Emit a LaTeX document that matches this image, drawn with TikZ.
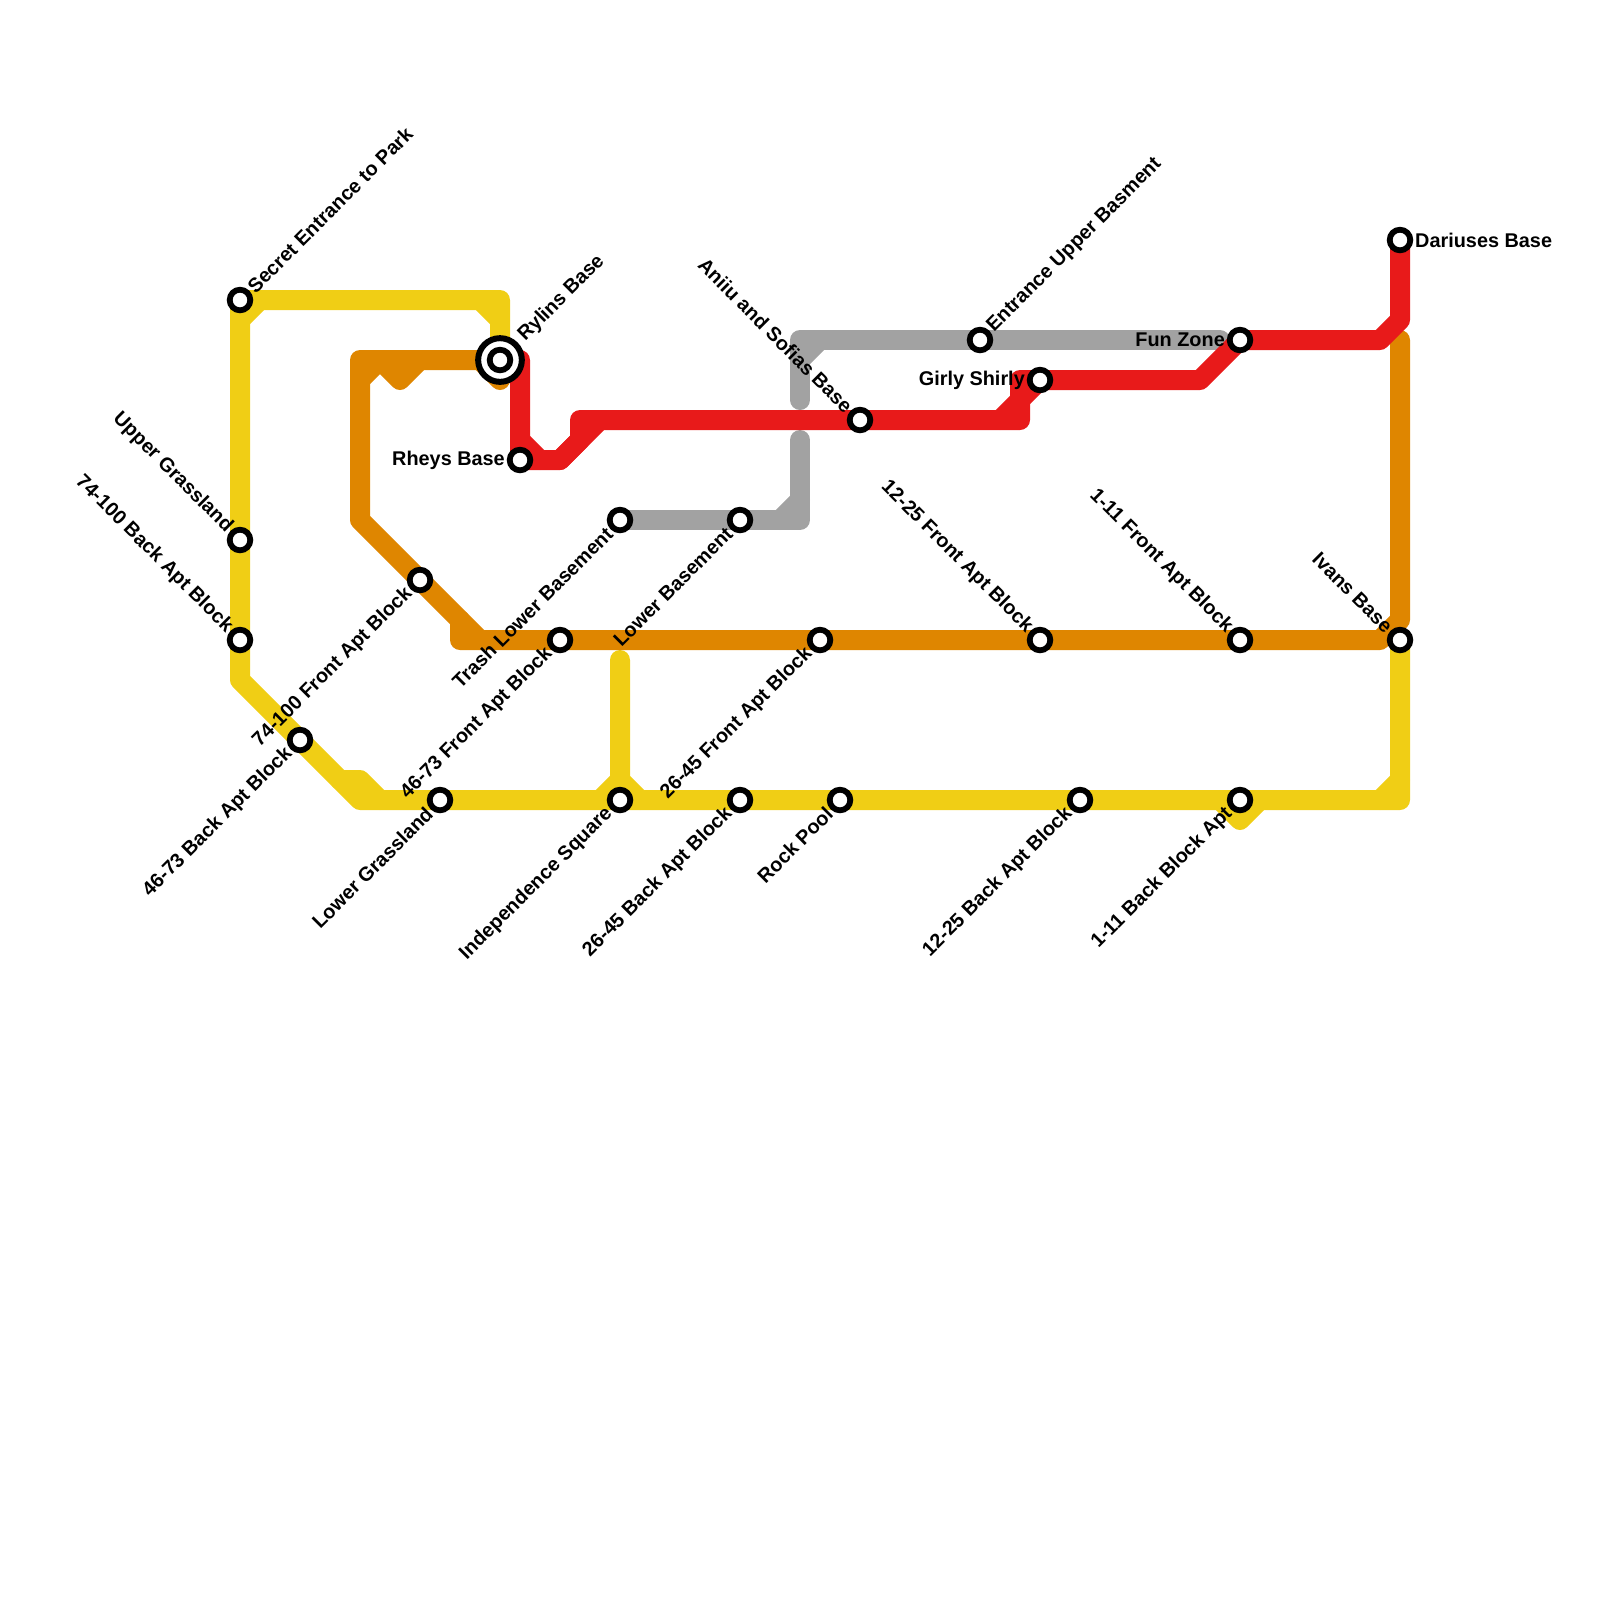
\documentclass[tikz,border=0pt]{standalone}
\usepackage{fontspec}
\setmainfont{Liberation Sans}
\usepackage{xcolor}
\usepackage{tikz}
\definecolor{metroyellow}{HTML}{F0CE15}
\definecolor{metroorange}{HTML}{DF8600}
\definecolor{metrored}{HTML}{E81A1A}
\definecolor{metrogrey}{HTML}{A2A2A2}
\begin{document}
\begin{tikzpicture}[x=0.2cm,y=-0.2cm,
line/.style={line width=2mm,line cap=round,line join=round},
stn/.style={circle,draw=black,fill=white,line width=0.58mm,minimum size=2.06mm,inner sep=0pt},
txt/.style={font=\fontsize{5.65}{7}\bfseries\selectfont,text=black,inner ysep=0pt,inner xsep=1.45mm},
lblne/.style={txt,anchor=west,rotate=45},
lblnw/.style={txt,anchor=east,rotate=-45},
lblsw/.style={txt,anchor=east,rotate=45},
lblw/.style={txt,anchor=east},
lble/.style={txt,anchor=west}]
\useasboundingbox (0,0) rectangle (80,80);
\coordinate (secret) at (12,15);
\coordinate (upper) at (12,27);
\coordinate (backA) at (12,32);
\coordinate (backB) at (15,37);
\coordinate (frontA) at (21,29);
\coordinate (lower) at (22,40);
\coordinate (rylins) at (25,18);
\coordinate (rheys) at (26,23);
\coordinate (trash) at (31,26);
\coordinate (frontB) at (28,32);
\coordinate (indep) at (31,40);
\coordinate (lowbase) at (37,26);
\coordinate (frontC) at (41,32);
\coordinate (backC) at (37,40);
\coordinate (rock) at (42,40);
\coordinate (aniiu) at (43,21);
\coordinate (entr) at (49,17);
\coordinate (girly) at (52,19);
\coordinate (frontD) at (52,32);
\coordinate (backD) at (54,40);
\coordinate (fun) at (62,17);
\coordinate (frontE) at (62,32);
\coordinate (backE) at (62,40);
\coordinate (ivans) at (70,32);
\coordinate (dar) at (70,12);
% yellow line
\draw[line,metroyellow](rylins)--(25,15)--(secret)--(upper)--(backA)--(12,34)--(backB)--(18,40)--(lower)--(indep)--(backC)--(rock)--(backD)--(backE)--(70,40)--(ivans);
\draw[line,metroyellow](31,33)--(indep)
(12,16)--(13,15)
(24,15)--(25,16)
(17,39)--(18,39)--(19,40)
(30,40)--(31,39)--(32,40)
(61,40)--(62,41)--(63,40)
(69,40)--(70,39);
% orange line
\draw[line,metroorange](rylins)--(18,18)--(18,26)--(frontA)--(24,32)--(frontB)--(frontC)--(frontD)--(frontE)--(69,32)--(70,31)--(70,17);
\draw[line,metroorange](18,19)--(19,18)--(20,19)--(21,18)
(24,18)--(25,19)
(23,31)--(23,32)--(24,32);
% grey line
\draw[line,metrogrey](trash)--(lowbase)--(40,26)--(40,22);
\draw[line,metrogrey](39,26)--(40,25);
\draw[line,metrogrey](40,20)--(40,17)--(entr)--(61,17);
\draw[line,metrogrey](40,18)--(41,17);
% red line
\draw[line,metrored](dar)--(70,16)--(69,17)--(fun)--(60,19)--(girly)--(51,19)--(51,21)--(aniiu)--(29,21)--(29,22)--(28,23)--(rheys)--(26,18)--(rylins);
\draw[line,metrored](52,19)--(50,21)
(30,21)--(28,23)
(26,22)--(27,23);
% stations
\node[circle,draw=black,fill=white,line width=0.6mm,minimum size=4.37mm,inner sep=0pt](rylinsring) at (rylins){};
\foreach \s in {secret,upper,backA,backB,frontA,lower,rylins,rheys,trash,frontB,indep,lowbase,frontC,backC,rock,aniiu,entr,girly,frontD,backD,fun,frontE,backE,ivans,dar}
\node[stn](\s stn) at (\s){};
% labels
\node[lblne](secrettxt) at (secret){Secret Entrance to Park};
\node[lblne,inner xsep=3mm](rylinstxt) at (rylins){Rylins Base};
\node[lblne](entrtxt) at (entr){Entrance Upper Basment};
\node[lblnw](uppertxt) at (upper){Upper Grassland};
\node[lblnw](backAtxt) at (backA){74-100 Back Apt Block};
\node[lblnw](aniiutxt) at (aniiu){Aniiu and Sofias Base};
\node[lblnw](frontDtxt) at (frontD){12-25 Front Apt Block};
\node[lblnw](frontEtxt) at (frontE){1-11 Front Apt Block};
\node[lblnw](ivanstxt) at (ivans){Ivans Base};
\node[lblsw](backBtxt) at (backB){46-73 Back Apt Block};
\node[lblsw](frontAtxt) at (frontA){74-100 Front Apt Block};
\node[lblsw](lowertxt) at (lower){Lower Grassland};
\node[lblsw](trashtxt) at (trash){Trash Lower Basement};
\node[lblsw](frontBtxt) at (frontB){46-73 Front Apt Block};
\node[lblsw](indeptxt) at (indep){Independence Square};
\node[lblsw](lowbasetxt) at (lowbase){Lower Basement};
\node[lblsw](frontCtxt) at (frontC){26-45 Front Apt Block};
\node[lblsw](backCtxt) at (backC){26-45 Back Apt Block};
\node[lblsw](rocktxt) at (rock){Rock Pool};
\node[lblsw](backDtxt) at (backD){12-25 Back Apt Block};
\node[lblsw](backEtxt) at (backE){1-11 Back Block Apt};
\node[lblw](rheystxt) at (rheys){Rheys Base};
\node[lblw](girlytxt) at (girly){Girly Shirly};
\node[lblw](funtxt) at (fun){Fun Zone};
\node[lble](dartxt) at (dar){Dariuses Base};
\end{tikzpicture}
\end{document}
